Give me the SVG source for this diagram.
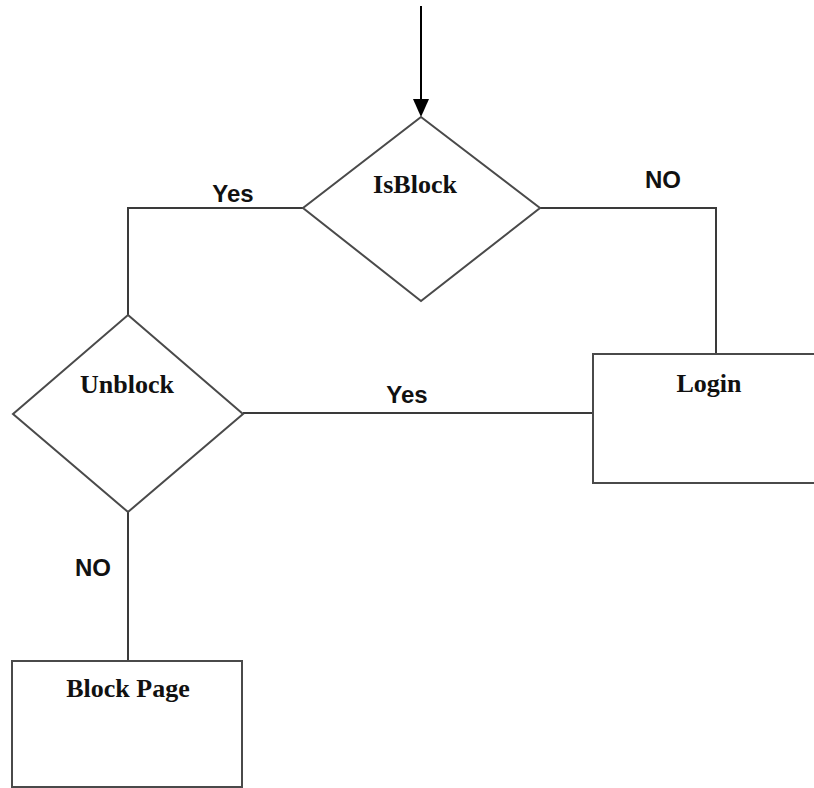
<svg xmlns="http://www.w3.org/2000/svg" width="814" height="788" viewBox="0 0 814 788">
  <style>
    .shape { fill: #ffffff; stroke: #4a4a4a; stroke-width: 2; }
    .wire { fill: none; stroke: #3a3a3a; stroke-width: 2; }
    .title { font-family: "Liberation Serif", "Times New Roman", serif; font-weight: bold; font-size: 26px; fill: #111111; text-anchor: middle; }
    .tag { font-family: "Liberation Sans", Arial, sans-serif; font-weight: bold; font-size: 24px; fill: #111111; text-anchor: middle; }
  </style>
  <defs>
    <marker id="arrow" viewBox="0 0 16 18" refX="8" refY="18" markerWidth="16" markerHeight="18" markerUnits="userSpaceOnUse" orient="auto-start-reverse">
      <path d="M0,0 L16,0 L8,18 Z" fill="#000000"/>
    </marker>
  </defs>
  <rect width="814" height="788" fill="#ffffff"/>

  <g id="connectors">
    <!-- entry arrow into the first decision -->
    <line x1="421" y1="6" x2="421" y2="99" stroke="#000000" stroke-width="2"/>
    <path d="M413,99 L429,99 L421,117 Z" fill="#000000"/>
    <!-- IsBlock yes branch to Unblock -->
    <polyline class="wire" points="303,208 128,208 128,315"/>
    <!-- IsBlock no branch to Login -->
    <polyline class="wire" points="540,208 716,208 716,354"/>
    <!-- Unblock yes branch to Login -->
    <line class="wire" x1="243" y1="413" x2="593" y2="413"/>
    <!-- Unblock no branch to Block Page -->
    <line class="wire" x1="128" y1="512" x2="128" y2="661"/>
    <text class="tag" x="233" y="202">Yes</text>
    <text class="tag" x="663" y="188">NO</text>
    <text class="tag" x="407" y="403">Yes</text>
    <text class="tag" x="93" y="576">NO</text>
  </g>

  <g id="isblock">
    <polygon class="shape" points="421,117 540,208 421,301 303,208"/>
    <text class="title" x="415" y="193">IsBlock</text>
  </g>

  <g id="unblock">
    <polygon class="shape" points="128,315 243,414 128,512 13,414"/>
    <text class="title" x="127" y="393">Unblock</text>
  </g>

  <g id="login">
    <rect class="shape" x="593" y="354" width="240" height="129"/>
    <text class="title" x="709" y="392">Login</text>
  </g>

  <g id="block-page">
    <rect class="shape" x="12" y="661" width="230" height="126"/>
    <text class="title" x="128" y="697">Block Page</text>
  </g>
</svg>
